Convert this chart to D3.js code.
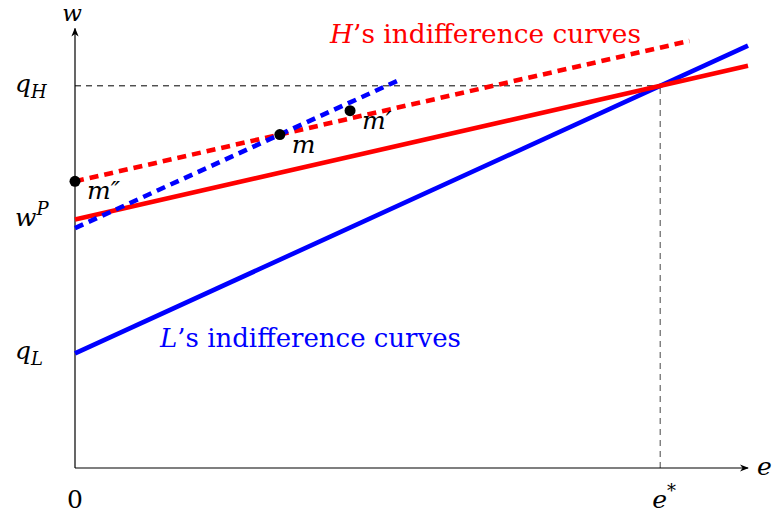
<!DOCTYPE html>
<html><head><meta charset="utf-8">
<script src="https://cdn.jsdelivr.net/npm/d3@7"></script>
<style>
body{margin:0;background:#fff;}
</style></head>
<body>
<svg id="c" width="772" height="518"></svg>
<script>
// ---- data ----
const xMax = 11.5, yMax = 11.5;
const eStar = 10, qH = 10, wP = 6.5, qL = 3;
const slopeL = 0.7, slopeH = 0.35;
const blueSolid = [[0, qL], [11.5, qL + slopeL * 11.5]];
const redSolid = [[0, wP], [11.5, wP + slopeH * 11.5]];
const redDashed = [[0, 7.5], [10.5, 7.5 + slopeH * 10.5]];
const blueDashed = [[0, 6.275], [5.5, 6.275 + slopeL * 5.5]];
const points = [
  {name: "m\u2033", x: 0, y: 7.5},
  {name: "m", x: 3.5, y: 8.725},
  {name: "m\u2032", x: 4.7, y: 9.35}
];
const yTickLabels = [{v: qH, base: "q", sub: "H"}, {v: wP, base: "w", sup: "P"}, {v: qL, base: "q", sub: "L"}];
const xTickLabels = [{v: 0, base: "0"}, {v: eStar, base: "e", sup: "*"}];

const FONT = "'DejaVu Serif', 'Liberation Serif', serif";

// ---- scales ----
const svg = d3.select("#c");
const x = d3.scaleLinear().domain([0, xMax]).range([75, 748]);
const y = d3.scaleLinear().domain([0, yMax]).range([468, 28.5]);

svg.append("defs").append("marker").attr("id", "arr")
  .attr("viewBox", "0 0 10 10").attr("refX", 9).attr("refY", 5)
  .attr("markerWidth", 9).attr("markerHeight", 9).attr("markerUnits", "userSpaceOnUse")
  .attr("orient", "auto")
  .append("path").attr("d", "M0,1 L10,5 L0,9 L3,5 Z").attr("fill", "#000");

const line = d3.line().x(d => x(d[0])).y(d => y(d[1]));

// guide lines
svg.append("path").attr("d", line([[0, qH], [eStar, qH]]))
  .attr("stroke", "#000").attr("stroke-width", 1).attr("stroke-dasharray", "6,5").attr("fill", "none");
svg.append("path").attr("d", line([[eStar, 0], [eStar, qH]]))
  .attr("stroke", "#666").attr("stroke-width", 1.2).attr("stroke-dasharray", "6,5").attr("fill", "none");

// axes
svg.append("path").attr("d", line([[0, 0], [xMax, 0]])).attr("stroke", "#000").attr("stroke-width", 1.2).attr("marker-end", "url(#arr)");
svg.append("path").attr("d", line([[0, 0], [0, yMax]])).attr("stroke", "#000").attr("stroke-width", 1.2).attr("marker-end", "url(#arr)");

// curves
const curve = (data, color, dashed) => svg.append("path").attr("d", line(data))
  .attr("stroke", color).attr("stroke-width", 4.6).attr("fill", "none")
  .attr("stroke-dasharray", dashed ? "9,6" : null);
curve(blueSolid, "#0000ff", false);
curve(redSolid, "#ff0000", false);
curve(redDashed, "#ff0000", true);
curve(blueDashed, "#0000ff", true);

// points
svg.selectAll("circle.pt").data(points).join("circle").attr("class", "pt")
  .attr("cx", d => x(d.x)).attr("cy", d => y(d.y)).attr("r", 5.5).attr("fill", "#000");
svg.selectAll("text.pt").data(points).join("text").attr("class", "pt")
  .attr("font-family", FONT)
  .attr("x", d => x(d.x) + 12).attr("y", d => y(d.y) + 18)
  .attr("font-size", 25).attr("font-style", "italic").text(d => d.name);

// y tick labels
yTickLabels.forEach(t => {
  const g = svg.append("text").attr("font-family", FONT).attr("x", 15).attr("y", y(t.v) + 6).attr("font-size", 25).attr("font-style", "italic");
  g.append("tspan").text(t.base);
  if (t.sub) g.append("tspan").attr("dy", 6).attr("font-size", 18).text(t.sub);
  if (t.sup) g.append("tspan").attr("dy", -11).attr("font-size", 18).text(t.sup);
});
// x tick labels
xTickLabels.forEach(t => {
  const g = svg.append("text").attr("font-family", FONT).attr("x", x(t.v) + (t.sup ? 4 : 0)).attr("y", 508).attr("font-size", 25)
    .attr("text-anchor", "middle").attr("font-style", t.sup ? "italic" : "normal");
  g.append("tspan").text(t.base);
  if (t.sup) g.append("tspan").attr("dy", -11).attr("font-size", 18).attr("font-style", "normal").text(t.sup);
});

// axis titles
svg.append("text").attr("font-family", FONT).attr("x", 72).attr("y", 21).attr("text-anchor", "middle").attr("font-size", 23).attr("font-style", "italic").text("w");
svg.append("text").attr("font-family", FONT).attr("x", 757).attr("y", 475).attr("font-size", 25).attr("font-style", "italic").text("e");

// curve labels
const lab = (tx, ty, letter, color, fs) => {
  const t = svg.append("text").attr("font-family", FONT).attr("x", tx).attr("y", ty).attr("font-size", fs).attr("fill", color);
  t.append("tspan").attr("font-style", "italic").text(letter);
  t.append("tspan").text("\u2019s indifference curves");
};
lab(330, 43, "H", "#ff0000", 26.4);
lab(160, 347, "L", "#0000ff", 26);
</script>
</body></html>
